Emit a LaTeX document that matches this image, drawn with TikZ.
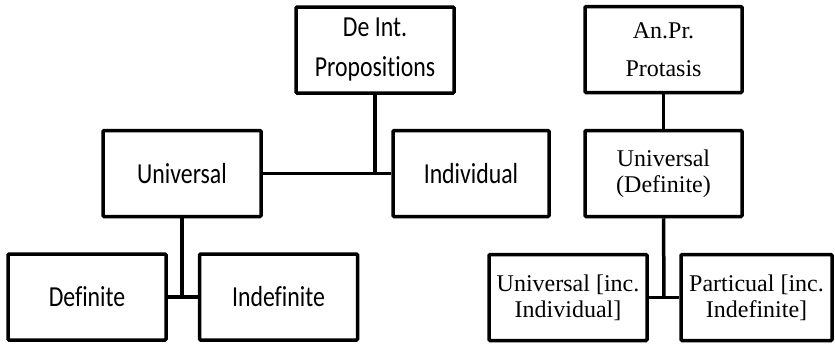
\documentclass[tikz,border=0pt]{standalone}
\usepackage{fontspec}
\setmainfont{Liberation Serif}
\newfontfamily\calfont[FakeStretch=0.82,Ligatures=NoCommon]{Carlito}
\begin{document}
\begin{tikzpicture}[x=1pt,y=-1pt,
  box/.style={draw=black,line width=3.5pt,rounded corners=1pt,inner sep=0pt,
    minimum width=#1,minimum height=86pt,align=center},
  box/.default=158pt,
  sansbox/.style={box=#1,font=\calfont\fontsize{29}{40}\selectfont},
  sansbox/.default=158pt,
  serifbox/.style={box=#1,font=\fontsize{24}{26}\selectfont},
  serifbox/.default=157pt,
  link/.style={line width=3.5pt}]
\useasboundingbox (0,0) rectangle (835,346);
\node[sansbox] (deint) at (375,50) {De Int.\\Propositions};
\node[sansbox] (univ) at (182,173.5) {Universal};
\node[sansbox=156pt] (indiv) at (471,173.5) {Individual};
\node[sansbox] (defin) at (87,297) {Definite};
\node[sansbox] (indef) at (278.5,297) {Indefinite};
\node[serifbox] (anpr) at (663.5,49.5) {An.Pr.\\[12pt]Protasis};
\node[serifbox] (univdef) at (663.5,173.5) {Universal\\(Definite)};
\node[serifbox=158pt] (uinc) at (568,297.5) {Universal [inc.\\Individual]};
\node[serifbox=151pt] (part) at (756.5,297.5) {Particual [inc.\\Indefinite]};
\coordinate (j1) at (375,173.5);
\coordinate (j2) at (182,297);
\coordinate (j3) at (664,297.5);
\draw[link] (deint.south) -- (j1);
\draw[link] (univ.east) -- (indiv.west);
\draw[link] (univ.south) -- (j2);
\draw[link] (defin.east) -- (indef.west);
\draw[link] (anpr.south) -- (univdef.north);
\draw[link] (univdef.south) -- (j3);
\draw[link] (uinc.east) -- (part.west);
\end{tikzpicture}
\end{document}
